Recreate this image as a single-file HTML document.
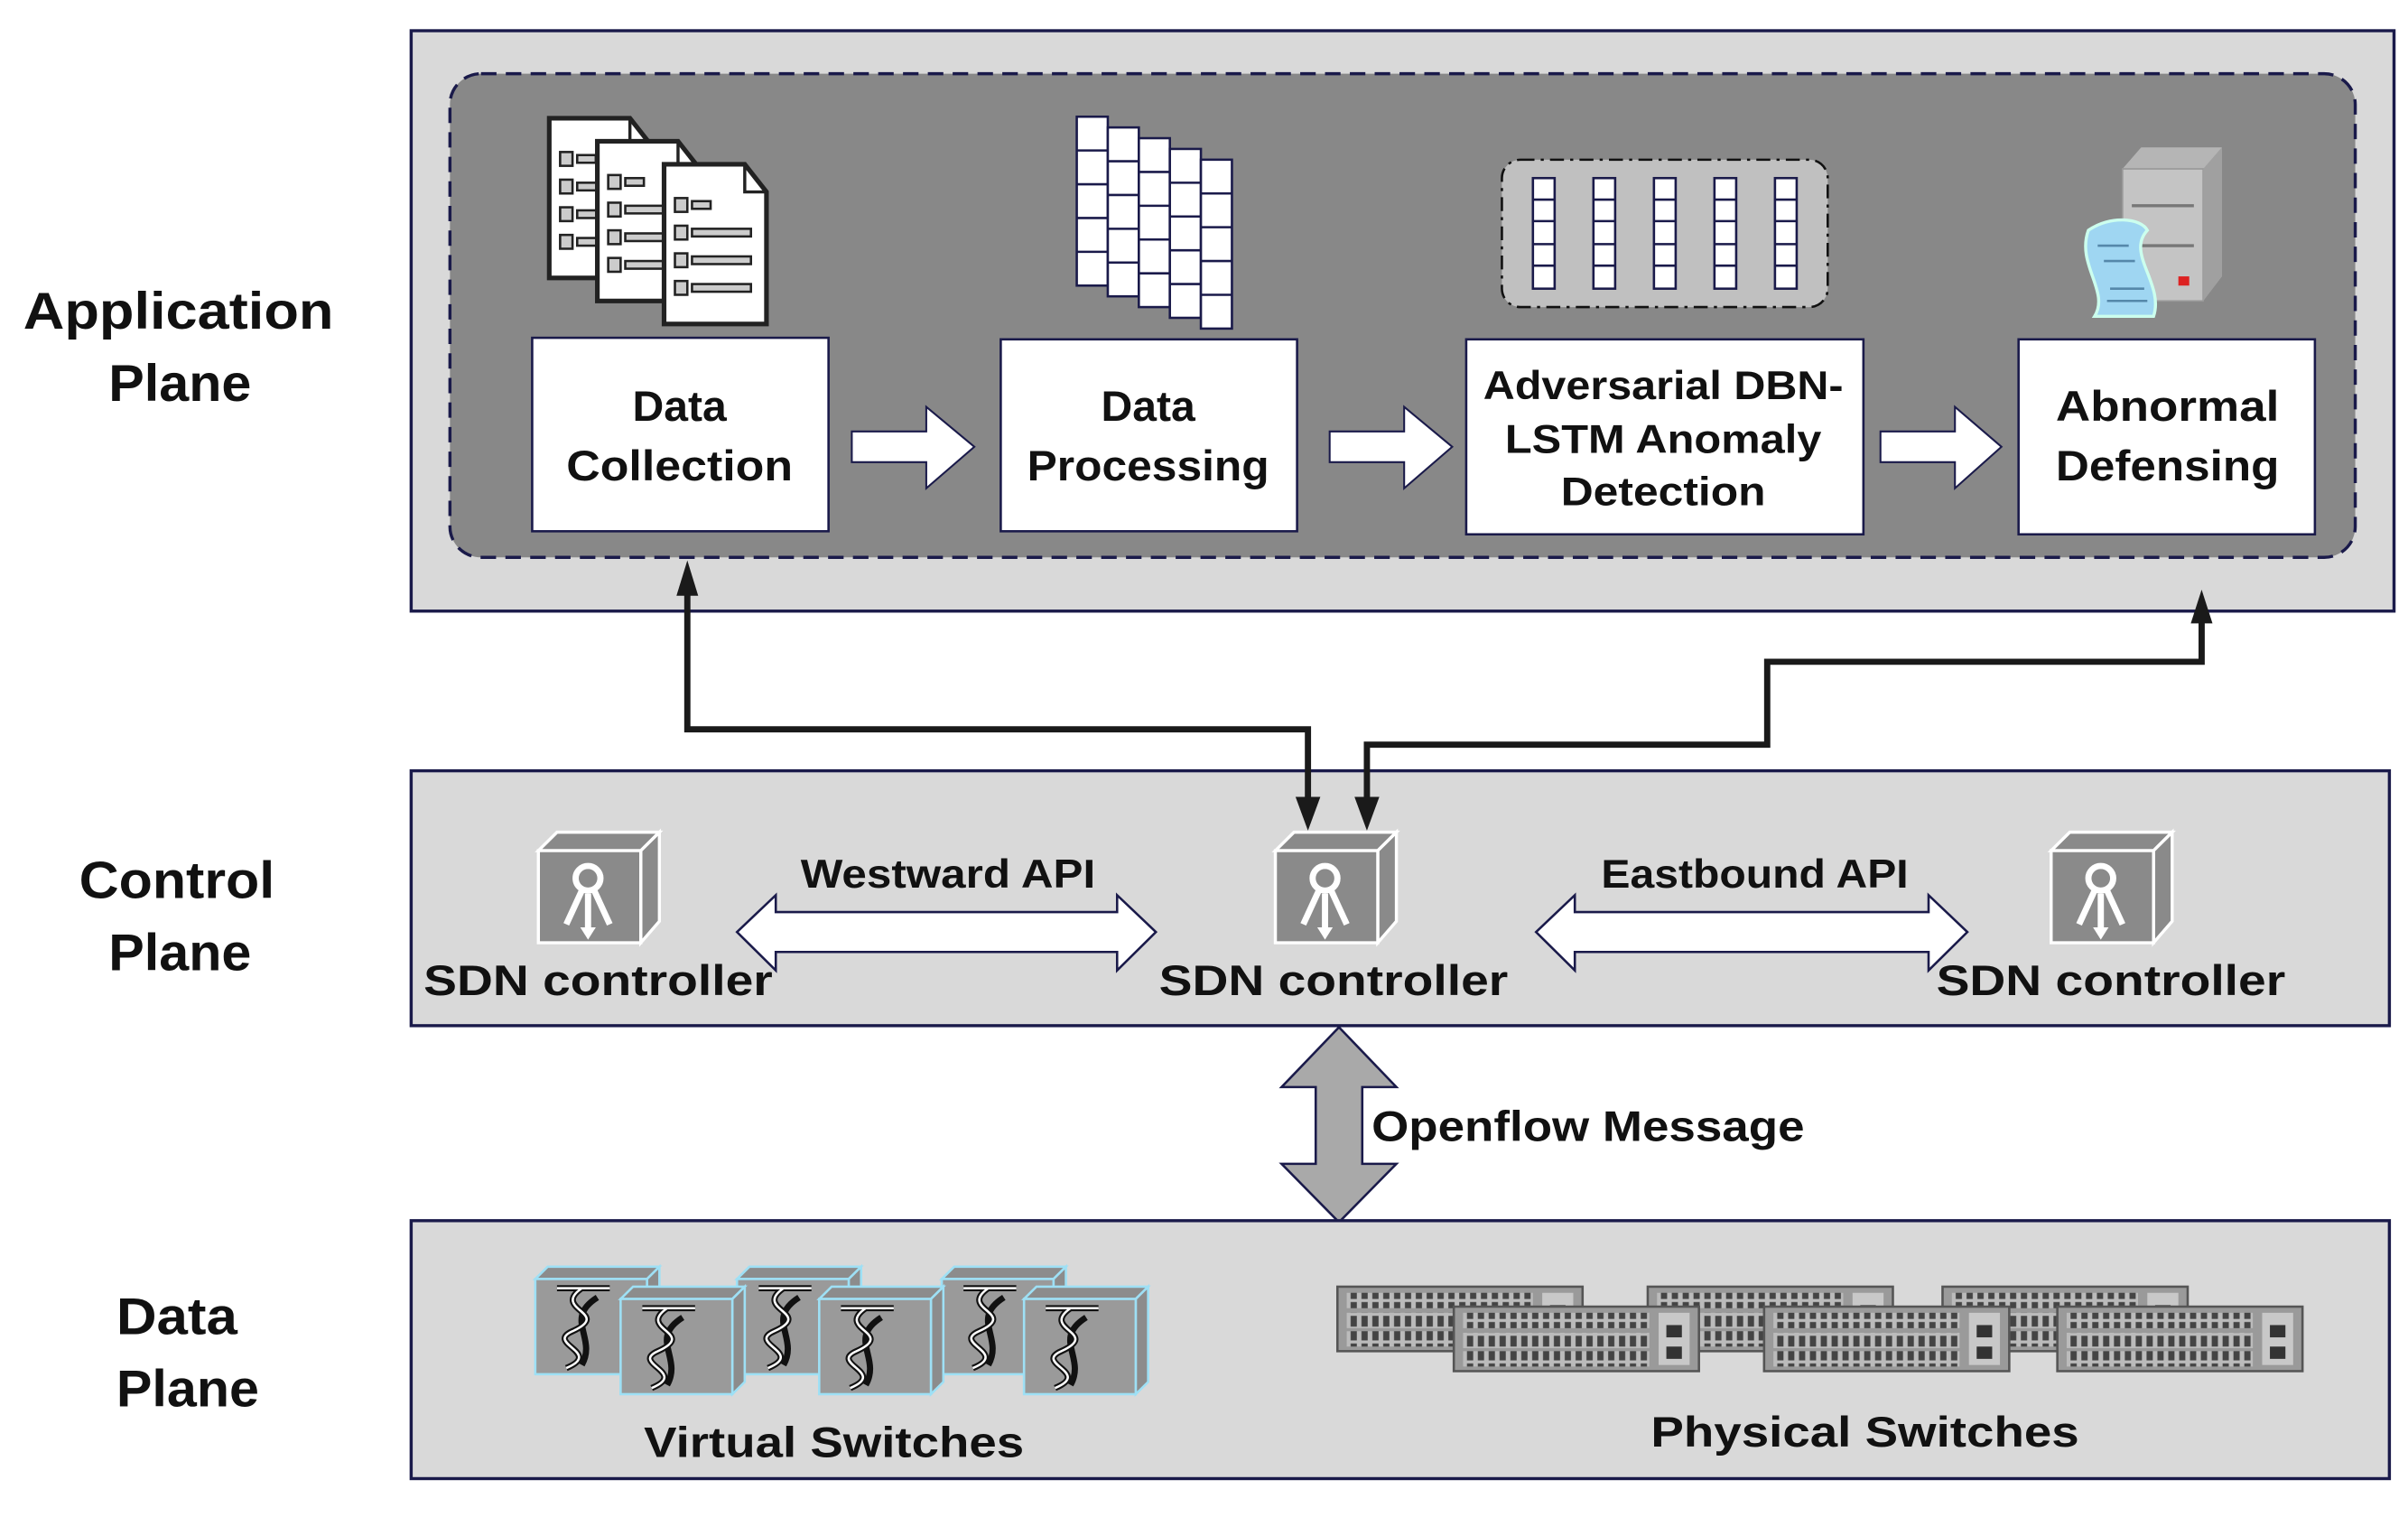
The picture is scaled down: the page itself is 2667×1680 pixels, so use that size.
<!DOCTYPE html>
<html><head><meta charset="utf-8"><style>
html,body{margin:0;padding:0;background:#fff;}
svg{display:block;}
text{font-family:"Liberation Sans",sans-serif;font-weight:bold;fill:#111;}
</style></head><body>
<svg width="2667" height="1680" viewBox="0 0 1552 988" preserveAspectRatio="none" xmlns="http://www.w3.org/2000/svg">
<defs>
<g id="doc">
 <path d="M0 0 H52 L66 18 V104 H0 Z" fill="#fff" stroke="#222" stroke-width="3"/>
 <path d="M52 0 V18 H66" fill="none" stroke="#222" stroke-width="2"/>
 <g fill="#ccc" stroke="#222" stroke-width="1.5">
 <rect x="7" y="22" width="8" height="9"/><rect x="18" y="24" width="12" height="5"/>
 <rect x="7" y="40" width="8" height="9"/><rect x="18" y="42" width="38" height="5"/>
 <rect x="7" y="58" width="8" height="9"/><rect x="18" y="60" width="38" height="5"/>
 <rect x="7" y="76" width="8" height="9"/><rect x="18" y="78" width="38" height="5"/>
 </g>
</g>
<g id="col">
 <rect x="0" y="0" width="20" height="110" fill="#fff" stroke="#1a1a4a" stroke-width="1.5"/>
 <path d="M0 22H20M0 44H20M0 66H20M0 88H20" stroke="#1a1a4a" stroke-width="1.5"/>
</g>
<g id="col2">
 <rect x="0" y="0" width="14" height="72" fill="#fff" stroke="#1a1a4a" stroke-width="1.5"/>
 <path d="M0 14H14M0 28H14M0 43H14M0 57H14" stroke="#1a1a4a" stroke-width="1.5"/>
</g>
<g id="ctl">
 <path d="M0 12 L12 0 H78 L66 12 Z" fill="#8a8a8a" stroke="#fff" stroke-width="2"/>
 <path d="M66 12 L78 0 V58 L66 72 Z" fill="#8a8a8a" stroke="#fff" stroke-width="2"/>
 <rect x="0" y="12" width="66" height="60" fill="#8a8a8a" stroke="#fff" stroke-width="2"/>
 <circle cx="32" cy="30" r="8" fill="none" stroke="#fff" stroke-width="4"/>
 <path d="M28 38 L18 60 M36 38 L46 60 M32 40 V66" stroke="#fff" stroke-width="4"/>
 <path d="M27 62 L32 70 L37 62 Z" fill="#fff"/>
</g>
<g id="vs">
 <path d="M0 8 L8 0 H80 L72 8 Z" fill="#8c8c8c" stroke="#9ee0f5" stroke-width="1.5"/>
 <path d="M72 8 L80 0 V62 L72 70 Z" fill="#8c8c8c" stroke="#9ee0f5" stroke-width="1.5"/>
 <rect x="0" y="8" width="72" height="62" fill="#9a9a9a" stroke="#9ee0f5" stroke-width="1.5"/>
 <path d="M14 14 H48 M30 14 C10 28 50 30 24 42 C6 50 44 56 20 66 M40 20 C18 34 40 46 30 64" fill="none" stroke="#111" stroke-width="4"/>
 <path d="M14 14 H48 M30 14 C10 28 50 30 24 42 C6 50 44 56 20 66" fill="none" stroke="#fff" stroke-width="1.5"/>
</g>
<pattern id="dots" width="7" height="9" patternUnits="userSpaceOnUse">
 <rect x="0" y="0" width="7" height="9" fill="#bbb"/>
 <rect x="1.5" y="1" width="4" height="7" fill="#444"/>
</pattern>
<g id="ps">
 <rect x="0" y="0" width="158" height="42" fill="#9a9a9a" stroke="#555" stroke-width="1.5"/>
 <rect x="6" y="4" width="120" height="10" fill="url(#dots)"/>
 <rect x="6" y="17" width="120" height="10" fill="url(#dots)"/>
 <rect x="6" y="29" width="120" height="10" fill="url(#dots)"/>
 <rect x="132" y="4" width="20" height="34" fill="#c8c8c8"/>
 <rect x="137" y="12" width="10" height="8" fill="#333"/>
 <rect x="137" y="26" width="10" height="8" fill="#333"/>
</g>
</defs>

<!-- Application plane -->
<rect x="265" y="20" width="1278" height="378" fill="#d9d9d9" stroke="#1a1a4a" stroke-width="2"/>
<rect x="290" y="48" width="1228" height="315" rx="20" fill="#888" stroke="#1a1a4a" stroke-width="2" stroke-dasharray="10 6"/>

<use href="#doc" x="354" y="77"/>
<use href="#doc" x="385" y="92"/>
<use href="#doc" x="428" y="107"/>

<use href="#col" x="694" y="76"/>
<use href="#col" x="714" y="83"/>
<use href="#col" x="734" y="90"/>
<use href="#col" x="754" y="97"/>
<use href="#col" x="774" y="104"/>

<rect x="968" y="104" width="210" height="96" rx="12" fill="#c0c0c0" stroke="#111" stroke-width="1.5" stroke-dasharray="9 4 2 4"/>
<use href="#col2" x="988" y="116"/>
<use href="#col2" x="1027" y="116"/>
<use href="#col2" x="1066" y="116"/>
<use href="#col2" x="1105" y="116"/>
<use href="#col2" x="1144" y="116"/>

<!-- server -->
<path d="M1368 110 L1380 96 H1432 V180 L1420 196 H1368 Z" fill="#b5b5b5"/>
<rect x="1368" y="110" width="52" height="86" fill="#c4c4c4" stroke="#999"/>
<path d="M1420 110 L1432 96 V180 L1420 196 Z" fill="#a0a0a0"/>
<path d="M1374 134 H1414 M1374 160 H1414" stroke="#777" stroke-width="2"/>
<rect x="1404" y="180" width="7" height="6" fill="#d22"/>
<path d="M1346 150 C1360 140 1380 142 1384 150 C1370 165 1395 185 1388 206 H1350 C1360 190 1338 172 1346 150 Z" fill="#9fd6f2" stroke="#cfe" stroke-width="2"/>
<path d="M1352 160 H1372 M1356 170 H1376 M1360 188 H1382 M1358 196 H1384" stroke="#58a" stroke-width="1.5"/>

<!-- process boxes -->
<g fill="#fff" stroke="#1a1a4a" stroke-width="1.5">
<rect x="343" y="220" width="191" height="126"/>
<rect x="645" y="221" width="191" height="125"/>
<rect x="945" y="221" width="256" height="127"/>
<rect x="1301" y="221" width="191" height="127"/>
</g>
<g fill="#fff" stroke="#1a1a4a" stroke-width="1.2">
<path d="M549 281 H597 V265 L628 291 L597 318 V301 H549 Z"/>
<path d="M857 281 H905 V265 L936 291 L905 318 V301 H857 Z"/>
<path d="M1212 281 H1260 V265 L1290 291 L1260 318 V301 H1212 Z"/>
</g>
<g font-size="28" text-anchor="middle">
<text x="438" y="274">Data</text>
<text x="438" y="313" textLength="146" lengthAdjust="spacingAndGlyphs">Collection</text>
<text x="740" y="274">Data</text>
<text x="740" y="313" textLength="156" lengthAdjust="spacingAndGlyphs">Processing</text>
<text x="1072" y="260" font-size="26" textLength="232" lengthAdjust="spacingAndGlyphs">Adversarial DBN-</text>
<text x="1072" y="295" font-size="26" textLength="204" lengthAdjust="spacingAndGlyphs">LSTM Anomaly</text>
<text x="1072" y="329" font-size="26" textLength="132" lengthAdjust="spacingAndGlyphs">Detection</text>
<text x="1397" y="274" textLength="144" lengthAdjust="spacingAndGlyphs">Abnormal</text>
<text x="1397" y="313" textLength="144" lengthAdjust="spacingAndGlyphs">Defensing</text>
</g>

<!-- plane labels -->
<g font-size="34" text-anchor="middle">
<text x="115" y="214" textLength="200" lengthAdjust="spacingAndGlyphs">Application</text>
<text x="116" y="261" textLength="92" lengthAdjust="spacingAndGlyphs">Plane</text>
<text x="114" y="585" textLength="126" lengthAdjust="spacingAndGlyphs">Control</text>
<text x="116" y="632" textLength="92" lengthAdjust="spacingAndGlyphs">Plane</text>
<text x="114" y="869" textLength="78" lengthAdjust="spacingAndGlyphs">Data</text>
<text x="121" y="916" textLength="92" lengthAdjust="spacingAndGlyphs">Plane</text>
</g>

<!-- Control plane -->
<rect x="265" y="502" width="1275" height="166" fill="#d9d9d9" stroke="#1a1a4a" stroke-width="2"/>

<!-- connectors -->
<g fill="none" stroke="#1a1a1a" stroke-width="4">
<path d="M443 385 V475 H843 V522"/>
<path d="M1419 402 V431 H1139 V485 H881 V522"/>
</g>
<g fill="#1a1a1a">
<path d="M436 388 L443 365 L450 388 Z"/>
<path d="M1412 406 L1419 384 L1426 406 Z"/>
<path d="M835 519 L843 541 L851 519 Z"/>
<path d="M873 519 L881 541 L889 519 Z"/>
</g>

<use href="#ctl" x="347" y="542"/>
<use href="#ctl" x="822" y="542"/>
<use href="#ctl" x="1322" y="542"/>

<g fill="#fff" stroke="#1a1a4a" stroke-width="1.5">
<path d="M475 607 L500 583 V594 H720 V583 L745 607 L720 632 V620 H500 V632 Z"/>
<path d="M990 607 L1015 583 V594 H1243 V583 L1268 607 L1243 632 V620 H1015 V632 Z"/>
</g>
<g font-size="26" text-anchor="middle">
<text x="611" y="578" textLength="190" lengthAdjust="spacingAndGlyphs">Westward API</text>
<text x="1131" y="578" textLength="198" lengthAdjust="spacingAndGlyphs">Eastbound API</text>
</g>
<g font-size="28">
<text x="273" y="648" textLength="225" lengthAdjust="spacingAndGlyphs">SDN controller</text>
<text x="747" y="648" textLength="225" lengthAdjust="spacingAndGlyphs">SDN controller</text>
<text x="1248" y="648" textLength="225" lengthAdjust="spacingAndGlyphs">SDN controller</text>
</g>

<!-- openflow -->
<path d="M863 669 L900 708 H878 V758 H900 L863 796 L826 758 H848 V708 H826 Z" fill="#a9a9a9" stroke="#1a1a4a" stroke-width="1.5"/>
<text x="884" y="743" font-size="28" textLength="279" lengthAdjust="spacingAndGlyphs">Openflow Message</text>

<!-- Data plane -->
<rect x="265" y="795" width="1275" height="168" fill="#d9d9d9" stroke="#1a1a4a" stroke-width="2"/>
<use href="#vs" x="345" y="825"/>
<use href="#vs" x="475" y="825"/>
<use href="#vs" x="607" y="825"/>
<use href="#vs" x="400" y="838"/>
<use href="#vs" x="528" y="838"/>
<use href="#vs" x="660" y="838"/>

<use href="#ps" x="862" y="838"/>
<use href="#ps" x="1062" y="838"/>
<use href="#ps" x="1252" y="838"/>
<use href="#ps" x="937" y="851"/>
<use href="#ps" x="1137" y="851"/>
<use href="#ps" x="1326" y="851"/>

<g font-size="28">
<text x="415" y="949" textLength="245" lengthAdjust="spacingAndGlyphs">Virtual Switches</text>
<text x="1064" y="942" textLength="276" lengthAdjust="spacingAndGlyphs">Physical  Switches</text>
</g>
</svg>
</body></html>
